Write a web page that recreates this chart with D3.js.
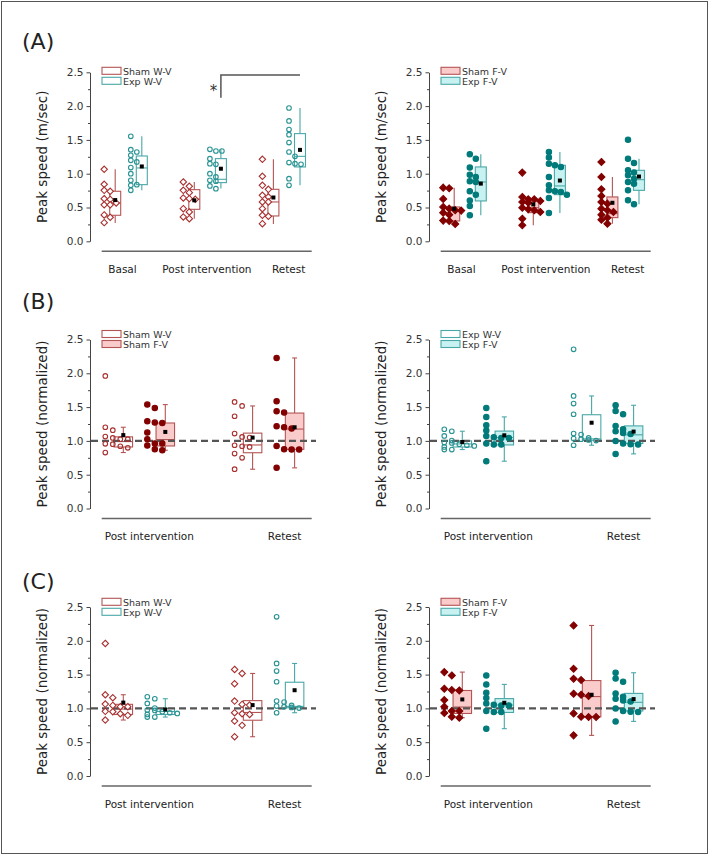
<!DOCTYPE html>
<html><head><meta charset="utf-8">
<script src="https://cdn.jsdelivr.net/npm/d3@7"></script>
<style>body{margin:0;background:#fff}svg{display:block}text{font-family:"DejaVu Sans",sans-serif}</style>
</head><body><svg id="c" width="709" height="855"></svg>
<script>
// ---------- data ----------
const catsA = ["Basal", "Post intervention", "Retest"];
const catsN = ["Post intervention", "Retest"];
const yTicks = [0, 0.5, 1, 1.5, 2, 2.5];
const yMinor = [0.25, 0.75, 1.25, 1.75, 2.25];
const panelLetters = ["(A)", "(B)", "(C)"];
const yTitleA = "Peak speed (m/sec)";
const yTitleN = "Peak speed (normalized)";

// Panel A: raw peak speed (m/sec), one list per category
const shamWV_A = [
  [1.065,0.843,0.754,0.74,0.63,0.62,0.567,0.54,0.54,0.39,0.355,0.276],
  [0.878,0.814,0.754,0.72,0.641,0.631,0.621,0.483,0.434,0.36,0.335],
  [1.213,0.962,0.828,0.769,0.68,0.656,0.582,0.582,0.483,0.385,0.37,0.261]];
const expWV_A = [
  [1.553,1.356,1.321,1.272,1.198,1.174,1.09,1.001,0.902,0.838,0.828,0.754],
  [1.361,1.336,1.336,1.223,1.149,1.139,1.001,0.952,0.902,0.888,0.819,0.779],
  [1.972,1.78,1.652,1.578,1.46,1.321,1.257,1.164,1.149,1.139,0.927,0.828]];
const shamFV_A = [
  [0.794,0.784,0.626,0.508,0.483,0.459,0.454,0.424,0.394,0.306,0.301,0.256],
  [1.016,0.656,0.621,0.621,0.597,0.582,0.572,0.498,0.473,0.459,0.434,0.335,0.237],
  [1.174,0.952,0.769,0.671,0.582,0.557,0.483,0.459,0.434,0.394,0.35,0.32,0.261]];
const expFV_A = [
  [1.287,1.223,1.09,0.986,0.952,0.888,0.878,0.74,0.69,0.602,0.523,0.385],
  [1.321,1.238,1.149,1.124,1.1,0.952,0.828,0.754,0.74,0.73,0.69,0.641,0.419],
  [1.504,1.223,1.159,1.05,1.016,0.976,0.927,0.878,0.853,0.754,0.607,0.547]];

// Normalized peak speed (panels B and C)
const shamWV_N = [
  [1.961,1.202,1.158,1.064,1.044,1.025,1.025,0.956,0.951,0.921,0.897,0.828],
  [1.576,1.517,1.365,1.108,1.059,1.049,0.936,0.921,0.911,0.813,0.749,0.581]];
const shamFV_N = [
  [1.537,1.488,1.291,1.271,1.266,1.123,1.025,0.961,0.961,0.931,0.877,0.862],
  [2.227,1.586,1.438,1.419,1.217,1.202,1.182,0.926,0.877,0.872,0.872,0.601]];
const expWV_N = [
  [1.172,1.143,1.074,1.005,0.975,0.970,0.951,0.936,0.926,0.911,0.872,0.872],
  [2.355,1.665,1.552,1.394,1.108,1.094,1.044,1.034,1.025,1.015,1.005,0.936]];
const expFV_N = [
  [1.488,1.355,1.232,1.153,1.074,1.054,1.044,1.044,0.961,0.946,0.946,0.700],
  [1.527,1.443,1.394,1.222,1.172,1.143,1.118,1.103,1.000,0.961,0.951,0.946,0.808]];

// Box statistics: [low whisker, Q1, median, Q3, high whisker]
const shamWV_A_box = [[0.27,0.385,0.567,0.74,1.065],[0.335,0.473,0.621,0.764,0.878],[0.255,0.375,0.582,0.769,1.213]];
const expWV_A_box  = [[0.754,0.838,1.085,1.262,1.553],[0.78,0.868,0.917,1.223,1.36],[0.828,1.10,1.257,1.593,1.972]];
const shamFV_A_box = [[0.256,0.301,0.46,0.508,0.794],[0.237,0.424,0.498,0.597,0.656],[0.261,0.35,0.41,0.656,0.952]];
const expFV_A_box  = [[0.385,0.597,0.878,1.10,1.287],[0.419,0.69,0.819,1.124,1.321],[0.547,0.754,0.912,1.05,1.223]];
const shamWV_N_box = [[0.828,0.91,0.99,1.06,1.202],[0.581,0.825,0.94,1.115,1.517]];
const shamFV_N_box = [[0.862,0.925,1.02,1.265,1.537],[0.601,0.875,1.175,1.412,2.227]];
const expWV_N_box  = [[0.872,0.91,0.955,1.0,1.143],[0.936,1.01,1.03,1.387,1.665]];
const expFV_N_box  = [[0.70,0.94,1.05,1.145,1.355],[0.808,0.962,1.09,1.222,1.527]];

// ---------- styling / layout ----------
const COL = {
  sham: {pt: "#a8302f", fill: "#820000", box: "#b45555", tint: "#f9cbcb"},
  exp:  {pt: "#2a9393", fill: "#007a7a", box: "#4aa7a7", tint: "#c8f1f1"}
};
const H = 169;
const svg = d3.select("#c");
svg.append("rect").attr("x", 1.5).attr("y", 1.5).attr("width", 706).attr("height", 852)
  .attr("fill", "none").attr("stroke", "#555").attr("stroke-width", 1);

const layA = {cats: catsA, cr: [38.5, 196.7], off: [-13.3, 13.3], bw: 11, jStart: -11, jStep: 6, maxCols: 4, labelShift: [-6, -0.7, 2], title: yTitleA, ref: false, cap: 0};
const layN = {cats: catsN, cr: [54.3, 183.6], off: [-21, 21], bw: 18.5, jStart: -18, jStep: 7.5, maxCols: 5, labelShift: [5, 11], title: yTitleN, ref: true, cap: 5};

function G(name, vals, box, c, marker, filled, tinted) { return {name, vals, box, c, marker, filled, tinted}; }

const panels = [
  Object.assign({x0: 90, top: 72.3, legY: -5, bracket: true, groups: [
    G("Sham W-V", shamWV_A, shamWV_A_box, "sham", "diamond", false, false),
    G("Exp W-V", expWV_A, expWV_A_box, "exp", "circle", false, false)]}, layA),
  Object.assign({x0: 429, top: 72.3, legY: -5, groups: [
    G("Sham F-V", shamFV_A, shamFV_A_box, "sham", "diamond", true, true),
    G("Exp F-V", expFV_A, expFV_A_box, "exp", "circle", true, true)]}, layA),
  Object.assign({x0: 90, top: 339.5, legY: -9, groups: [
    G("Sham W-V", shamWV_N, shamWV_N_box, "sham", "circle", false, false),
    G("Sham F-V", shamFV_N, shamFV_N_box, "sham", "circle", true, true)]}, layN),
  Object.assign({x0: 429, top: 339.5, legY: -9, groups: [
    G("Exp W-V", expWV_N, expWV_N_box, "exp", "circle", false, false),
    G("Exp F-V", expFV_N, expFV_N_box, "exp", "circle", true, true)]}, layN),
  Object.assign({x0: 90, top: 607, legY: -8.7, groups: [
    G("Sham W-V", shamWV_N, shamWV_N_box, "sham", "diamond", false, false),
    G("Exp W-V", expWV_N, expWV_N_box, "exp", "circle", false, false)]}, layN),
  Object.assign({x0: 429, top: 607, legY: -8.7, groups: [
    G("Sham F-V", shamFV_N, shamFV_N_box, "sham", "diamond", true, true),
    G("Exp F-V", expFV_N, expFV_N_box, "exp", "circle", true, true)]}, layN)
];

function jitterCols(vals, y, thr, maxCols) {
  const idx = d3.range(vals.length).sort((a, b) => vals[b] - vals[a]);
  const cols = new Array(vals.length);
  let start = null, c = 0;
  idx.forEach(i => {
    const py = y(vals[i]);
    if (start === null || py - start > thr) { start = py; c = 0; } else c++;
    cols[i] = c % maxCols;
  });
  return cols;
}

function drawPanel(p) {
  const g = svg.append("g");
  const y = d3.scaleLinear().domain([0, 2.5]).range([p.top + H, p.top]);
  const xc = d3.scalePoint().domain(p.cats).range([p.x0 + p.cr[0], p.x0 + p.cr[1]]);

  // y axis
  const ga = g.append("g").attr("transform", `translate(${p.x0},0)`)
    .call(d3.axisLeft(y).tickValues(yTicks).tickFormat(d3.format(".1f"))
      .tickSizeInner(3.5).tickSizeOuter(0).tickPadding(3));
  ga.attr("font-family", "DejaVu Sans").attr("font-size", 10.5);
  ga.select(".domain").attr("stroke", "#444");
  ga.selectAll(".tick line").attr("stroke", "#444");
  ga.selectAll(".tick text").attr("fill", "#333");
  const gm = g.append("g").attr("transform", `translate(${p.x0},0)`)
    .call(d3.axisLeft(y).tickValues(yMinor).tickFormat("").tickSizeInner(2).tickSizeOuter(0));
  gm.select(".domain").remove();
  gm.selectAll(".tick line").attr("stroke", "#444");

  g.append("text").attr("transform", `translate(${p.x0 - 48},${p.top + H / 2}) rotate(-90)`)
    .attr("text-anchor", "middle").attr("dominant-baseline", "central")
    .attr("font-size", 13.5).attr("fill", "#222").text(p.title);

  // x axis line + category labels
  g.append("line").attr("x1", p.x0 + 11.7).attr("x2", p.x0 + 221.7)
    .attr("y1", p.top + 179).attr("y2", p.top + 179).attr("stroke", "#666").attr("stroke-width", 1.5);
  g.selectAll("text.cat").data(p.cats).join("text").attr("class", "cat")
    .attr("x", (d, i) => xc(d) + p.labelShift[i]).attr("y", p.top + 200.5)
    .attr("text-anchor", "middle").attr("font-size", 10.5).attr("fill", "#222").text(d => d);

  // boxes
  p.groups.forEach((grp, gi) => {
    const c = COL[grp.c];
    p.cats.forEach((cat, ci) => {
      const cx = xc(cat) + p.off[gi];
      const [lo, q1, md, q3, hi] = grp.box[ci];
      const bw = p.bw;
      g.append("line").attr("x1", cx).attr("x2", cx).attr("y1", y(hi)).attr("y2", y(q3)).attr("stroke", c.box).attr("stroke-width", 1.1);
      g.append("line").attr("x1", cx).attr("x2", cx).attr("y1", y(q1)).attr("y2", y(lo)).attr("stroke", c.box).attr("stroke-width", 1.1);
      if (p.cap) {
        [hi, lo].forEach(v => g.append("line").attr("x1", cx - p.cap / 2).attr("x2", cx + p.cap / 2)
          .attr("y1", y(v)).attr("y2", y(v)).attr("stroke", c.box).attr("stroke-width", 1.1));
      }
      g.append("rect").attr("x", cx - bw / 2).attr("y", y(q3)).attr("width", bw).attr("height", y(q1) - y(q3))
        .attr("fill", grp.tinted ? c.tint : "#fff").attr("stroke", c.box).attr("stroke-width", 1.1);
      g.append("line").attr("x1", cx - bw / 2).attr("x2", cx + bw / 2).attr("y1", y(md)).attr("y2", y(md))
        .attr("stroke", c.box).attr("stroke-width", 1.1);
    });
  });

  // reference line at 1.0
  if (p.ref) {
    g.append("line").attr("x1", p.x0 + 1).attr("x2", p.x0 + 226).attr("y1", y(1)).attr("y2", y(1))
      .attr("stroke", "#555").attr("stroke-width", 2.2).attr("stroke-dasharray", "7,4");
  }

  // points + means
  p.groups.forEach((grp, gi) => {
    const c = COL[grp.c];
    p.cats.forEach((cat, ci) => {
      const cx = xc(cat) + p.off[gi];
      const vals = grp.vals[ci];
      const cols = jitterCols(vals, y, 5, p.maxCols);
      vals.forEach((v, i) => {
        const px = cx + p.jStart + cols[i] * p.jStep, py = y(v);
        if (grp.marker === "diamond") {
          const d = grp.filled ? 3.5 : 3.2;
          g.append("path").attr("d", `M${px},${py - d}L${px + d},${py}L${px},${py + d}L${px - d},${py}Z`)
            .attr("fill", grp.filled ? c.fill : "#fff").attr("stroke", grp.filled ? c.fill : c.pt).attr("stroke-width", 1.1);
        } else {
          g.append("circle").attr("cx", px).attr("cy", py).attr("r", grp.filled ? 2.7 : 2.3)
            .attr("fill", grp.filled ? c.fill : "#fff").attr("fill-opacity", grp.filled ? 1 : 0)
            .attr("stroke", grp.filled ? c.fill : c.pt).attr("stroke-width", 1.1);
        }
      });
      const m = d3.mean(vals);
      g.append("rect").attr("x", cx - 2).attr("y", y(m) - 2).attr("width", 4).attr("height", 4).attr("fill", "#000");
    });
  });

  // legend
  p.groups.forEach((grp, gi) => {
    const c = COL[grp.c];
    const ry = p.top + p.legY + gi * 10;
    g.append("rect").attr("x", p.x0 + 12).attr("y", ry).attr("width", 19).attr("height", 7)
      .attr("fill", grp.tinted ? c.tint : "#fff").attr("stroke", c.box).attr("stroke-width", 1.1);
    g.append("text").attr("x", p.x0 + 33).attr("y", ry + 3.8).attr("dominant-baseline", "central")
      .attr("font-size", 9.5).attr("fill", "#333").text(grp.name);
  });

  // significance bracket
  if (p.bracket) {
    const xs = xc("Post intervention") + p.off[1], xe = xc("Retest") + p.off[1];
    g.append("path").attr("d", `M${xs},${p.top + 25.4}V${p.top + 2.7}H${xe}`)
      .attr("fill", "none").attr("stroke", "#555").attr("stroke-width", 1.5);
    g.append("text").attr("x", xs - 7.5).attr("y", p.top + 24).attr("text-anchor", "middle")
      .attr("font-size", 15).attr("fill", "#333").text("*");
  }
}

panels.forEach(drawPanel);

// panel letters
const letterY = [48.8, 308.8, 588.8];
svg.selectAll("text.letter").data(panelLetters).join("text").attr("class", "letter")
  .attr("x", 22).attr("y", (d, i) => letterY[i]).attr("font-size", 22).attr("fill", "#222").text(d => d);
</script></body></html>
